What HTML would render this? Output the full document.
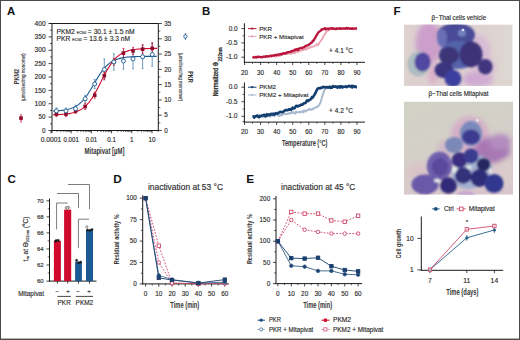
<!DOCTYPE html>
<html><head><meta charset="utf-8"><style>
html,body{margin:0;padding:0;background:#fff;}
svg{display:block;font-family:"Liberation Sans", sans-serif;}
text{stroke:currentColor;stroke-width:0.14px;paint-order:stroke;}
text[font-weight="bold"]{stroke-width:0px;}
</style></head><body>
<svg width="520" height="340" viewBox="0 0 520 340">
<rect width="520" height="340" fill="#fff"/>
<text x="7.1" y="14.8" font-size="11.3" text-anchor="start" font-weight="bold" fill="#111" color="#111" >A</text>
<line x1="49" y1="23.5" x2="158.3" y2="23.5" stroke="#1a1a1a" stroke-width="1" />
<line x1="52" y1="23.5" x2="52" y2="133" stroke="#1a1a1a" stroke-width="1" />
<line x1="51.5" y1="130.5" x2="158.8" y2="130.5" stroke="#1a1a1a" stroke-width="1" />
<line x1="158.3" y1="23.5" x2="158.3" y2="130.5" stroke="#1a1a1a" stroke-width="1" />
<line x1="48.5" y1="130.5" x2="52" y2="130.5" stroke="#1a1a1a" stroke-width="0.8" />
<text x="45.6" y="132.7" font-size="6.3" text-anchor="end" font-weight="normal" fill="#2a2a2a" color="#2a2a2a" >0</text>
<line x1="48.5" y1="117.12" x2="52" y2="117.12" stroke="#1a1a1a" stroke-width="0.8" />
<text x="45.6" y="119.33" font-size="6.3" text-anchor="end" font-weight="normal" fill="#2a2a2a" color="#2a2a2a" >50</text>
<line x1="48.5" y1="103.75" x2="52" y2="103.75" stroke="#1a1a1a" stroke-width="0.8" />
<text x="45.6" y="105.95" font-size="6.3" text-anchor="end" font-weight="normal" fill="#2a2a2a" color="#2a2a2a" textLength="11.1" lengthAdjust="spacingAndGlyphs" >100</text>
<line x1="48.5" y1="90.38" x2="52" y2="90.38" stroke="#1a1a1a" stroke-width="0.8" />
<text x="45.6" y="92.58" font-size="6.3" text-anchor="end" font-weight="normal" fill="#2a2a2a" color="#2a2a2a" textLength="11.1" lengthAdjust="spacingAndGlyphs" >150</text>
<line x1="48.5" y1="77" x2="52" y2="77" stroke="#1a1a1a" stroke-width="0.8" />
<text x="45.6" y="79.2" font-size="6.3" text-anchor="end" font-weight="normal" fill="#2a2a2a" color="#2a2a2a" textLength="11.1" lengthAdjust="spacingAndGlyphs" >200</text>
<line x1="48.5" y1="63.62" x2="52" y2="63.62" stroke="#1a1a1a" stroke-width="0.8" />
<text x="45.6" y="65.83" font-size="6.3" text-anchor="end" font-weight="normal" fill="#2a2a2a" color="#2a2a2a" textLength="11.1" lengthAdjust="spacingAndGlyphs" >250</text>
<line x1="48.5" y1="50.25" x2="52" y2="50.25" stroke="#1a1a1a" stroke-width="0.8" />
<text x="45.6" y="52.45" font-size="6.3" text-anchor="end" font-weight="normal" fill="#2a2a2a" color="#2a2a2a" textLength="11.1" lengthAdjust="spacingAndGlyphs" >300</text>
<line x1="48.5" y1="36.88" x2="52" y2="36.88" stroke="#1a1a1a" stroke-width="0.8" />
<text x="45.6" y="39.08" font-size="6.3" text-anchor="end" font-weight="normal" fill="#2a2a2a" color="#2a2a2a" textLength="11.1" lengthAdjust="spacingAndGlyphs" >350</text>
<line x1="48.5" y1="23.5" x2="52" y2="23.5" stroke="#1a1a1a" stroke-width="0.8" />
<text x="45.6" y="25.7" font-size="6.3" text-anchor="end" font-weight="normal" fill="#2a2a2a" color="#2a2a2a" textLength="11.1" lengthAdjust="spacingAndGlyphs" >400</text>
<line x1="50" y1="123.81" x2="52" y2="123.81" stroke="#1a1a1a" stroke-width="0.7" />
<line x1="50" y1="110.44" x2="52" y2="110.44" stroke="#1a1a1a" stroke-width="0.7" />
<line x1="50" y1="97.06" x2="52" y2="97.06" stroke="#1a1a1a" stroke-width="0.7" />
<line x1="50" y1="83.69" x2="52" y2="83.69" stroke="#1a1a1a" stroke-width="0.7" />
<line x1="50" y1="70.31" x2="52" y2="70.31" stroke="#1a1a1a" stroke-width="0.7" />
<line x1="50" y1="56.94" x2="52" y2="56.94" stroke="#1a1a1a" stroke-width="0.7" />
<line x1="50" y1="43.56" x2="52" y2="43.56" stroke="#1a1a1a" stroke-width="0.7" />
<line x1="50" y1="30.19" x2="52" y2="30.19" stroke="#1a1a1a" stroke-width="0.7" />
<line x1="158.3" y1="130.5" x2="161.8" y2="130.5" stroke="#1a1a1a" stroke-width="0.8" />
<text x="164.2" y="132.7" font-size="6.3" text-anchor="start" font-weight="normal" fill="#2a2a2a" color="#2a2a2a" >0</text>
<line x1="158.3" y1="115.21" x2="161.8" y2="115.21" stroke="#1a1a1a" stroke-width="0.8" />
<text x="164.2" y="117.41" font-size="6.3" text-anchor="start" font-weight="normal" fill="#2a2a2a" color="#2a2a2a" >5</text>
<line x1="158.3" y1="99.93" x2="161.8" y2="99.93" stroke="#1a1a1a" stroke-width="0.8" />
<text x="164.2" y="102.13" font-size="6.3" text-anchor="start" font-weight="normal" fill="#2a2a2a" color="#2a2a2a" >10</text>
<line x1="158.3" y1="84.64" x2="161.8" y2="84.64" stroke="#1a1a1a" stroke-width="0.8" />
<text x="164.2" y="86.84" font-size="6.3" text-anchor="start" font-weight="normal" fill="#2a2a2a" color="#2a2a2a" >15</text>
<line x1="158.3" y1="69.36" x2="161.8" y2="69.36" stroke="#1a1a1a" stroke-width="0.8" />
<text x="164.2" y="71.56" font-size="6.3" text-anchor="start" font-weight="normal" fill="#2a2a2a" color="#2a2a2a" >20</text>
<line x1="158.3" y1="54.07" x2="161.8" y2="54.07" stroke="#1a1a1a" stroke-width="0.8" />
<text x="164.2" y="56.27" font-size="6.3" text-anchor="start" font-weight="normal" fill="#2a2a2a" color="#2a2a2a" >25</text>
<line x1="158.3" y1="38.79" x2="161.8" y2="38.79" stroke="#1a1a1a" stroke-width="0.8" />
<text x="164.2" y="40.99" font-size="6.3" text-anchor="start" font-weight="normal" fill="#2a2a2a" color="#2a2a2a" >30</text>
<line x1="158.3" y1="23.5" x2="161.8" y2="23.5" stroke="#1a1a1a" stroke-width="0.8" />
<text x="164.2" y="25.7" font-size="6.3" text-anchor="start" font-weight="normal" fill="#2a2a2a" color="#2a2a2a" >35</text>
<line x1="158.3" y1="122.86" x2="160.3" y2="122.86" stroke="#1a1a1a" stroke-width="0.7" />
<line x1="158.3" y1="107.57" x2="160.3" y2="107.57" stroke="#1a1a1a" stroke-width="0.7" />
<line x1="158.3" y1="92.29" x2="160.3" y2="92.29" stroke="#1a1a1a" stroke-width="0.7" />
<line x1="158.3" y1="77" x2="160.3" y2="77" stroke="#1a1a1a" stroke-width="0.7" />
<line x1="158.3" y1="61.71" x2="160.3" y2="61.71" stroke="#1a1a1a" stroke-width="0.7" />
<line x1="158.3" y1="46.43" x2="160.3" y2="46.43" stroke="#1a1a1a" stroke-width="0.7" />
<line x1="158.3" y1="31.14" x2="160.3" y2="31.14" stroke="#1a1a1a" stroke-width="0.7" />
<line x1="51" y1="130.5" x2="51" y2="133.3" stroke="#1a1a1a" stroke-width="0.8" />
<line x1="57.08" y1="130.5" x2="57.08" y2="132.1" stroke="#1a1a1a" stroke-width="0.6" />
<line x1="60.64" y1="130.5" x2="60.64" y2="132.1" stroke="#1a1a1a" stroke-width="0.6" />
<line x1="63.16" y1="130.5" x2="63.16" y2="132.1" stroke="#1a1a1a" stroke-width="0.6" />
<line x1="65.12" y1="130.5" x2="65.12" y2="132.1" stroke="#1a1a1a" stroke-width="0.6" />
<line x1="66.72" y1="130.5" x2="66.72" y2="132.1" stroke="#1a1a1a" stroke-width="0.6" />
<line x1="68.07" y1="130.5" x2="68.07" y2="132.1" stroke="#1a1a1a" stroke-width="0.6" />
<line x1="69.24" y1="130.5" x2="69.24" y2="132.1" stroke="#1a1a1a" stroke-width="0.6" />
<line x1="70.28" y1="130.5" x2="70.28" y2="132.1" stroke="#1a1a1a" stroke-width="0.6" />
<line x1="71.2" y1="130.5" x2="71.2" y2="133.3" stroke="#1a1a1a" stroke-width="0.8" />
<line x1="77.28" y1="130.5" x2="77.28" y2="132.1" stroke="#1a1a1a" stroke-width="0.6" />
<line x1="80.84" y1="130.5" x2="80.84" y2="132.1" stroke="#1a1a1a" stroke-width="0.6" />
<line x1="83.36" y1="130.5" x2="83.36" y2="132.1" stroke="#1a1a1a" stroke-width="0.6" />
<line x1="85.32" y1="130.5" x2="85.32" y2="132.1" stroke="#1a1a1a" stroke-width="0.6" />
<line x1="86.92" y1="130.5" x2="86.92" y2="132.1" stroke="#1a1a1a" stroke-width="0.6" />
<line x1="88.27" y1="130.5" x2="88.27" y2="132.1" stroke="#1a1a1a" stroke-width="0.6" />
<line x1="89.44" y1="130.5" x2="89.44" y2="132.1" stroke="#1a1a1a" stroke-width="0.6" />
<line x1="90.48" y1="130.5" x2="90.48" y2="132.1" stroke="#1a1a1a" stroke-width="0.6" />
<line x1="91.4" y1="130.5" x2="91.4" y2="133.3" stroke="#1a1a1a" stroke-width="0.8" />
<line x1="97.48" y1="130.5" x2="97.48" y2="132.1" stroke="#1a1a1a" stroke-width="0.6" />
<line x1="101.04" y1="130.5" x2="101.04" y2="132.1" stroke="#1a1a1a" stroke-width="0.6" />
<line x1="103.56" y1="130.5" x2="103.56" y2="132.1" stroke="#1a1a1a" stroke-width="0.6" />
<line x1="105.52" y1="130.5" x2="105.52" y2="132.1" stroke="#1a1a1a" stroke-width="0.6" />
<line x1="107.12" y1="130.5" x2="107.12" y2="132.1" stroke="#1a1a1a" stroke-width="0.6" />
<line x1="108.47" y1="130.5" x2="108.47" y2="132.1" stroke="#1a1a1a" stroke-width="0.6" />
<line x1="109.64" y1="130.5" x2="109.64" y2="132.1" stroke="#1a1a1a" stroke-width="0.6" />
<line x1="110.68" y1="130.5" x2="110.68" y2="132.1" stroke="#1a1a1a" stroke-width="0.6" />
<line x1="111.6" y1="130.5" x2="111.6" y2="133.3" stroke="#1a1a1a" stroke-width="0.8" />
<line x1="117.68" y1="130.5" x2="117.68" y2="132.1" stroke="#1a1a1a" stroke-width="0.6" />
<line x1="121.24" y1="130.5" x2="121.24" y2="132.1" stroke="#1a1a1a" stroke-width="0.6" />
<line x1="123.76" y1="130.5" x2="123.76" y2="132.1" stroke="#1a1a1a" stroke-width="0.6" />
<line x1="125.72" y1="130.5" x2="125.72" y2="132.1" stroke="#1a1a1a" stroke-width="0.6" />
<line x1="127.32" y1="130.5" x2="127.32" y2="132.1" stroke="#1a1a1a" stroke-width="0.6" />
<line x1="128.67" y1="130.5" x2="128.67" y2="132.1" stroke="#1a1a1a" stroke-width="0.6" />
<line x1="129.84" y1="130.5" x2="129.84" y2="132.1" stroke="#1a1a1a" stroke-width="0.6" />
<line x1="130.88" y1="130.5" x2="130.88" y2="132.1" stroke="#1a1a1a" stroke-width="0.6" />
<line x1="131.8" y1="130.5" x2="131.8" y2="133.3" stroke="#1a1a1a" stroke-width="0.8" />
<line x1="137.88" y1="130.5" x2="137.88" y2="132.1" stroke="#1a1a1a" stroke-width="0.6" />
<line x1="141.44" y1="130.5" x2="141.44" y2="132.1" stroke="#1a1a1a" stroke-width="0.6" />
<line x1="143.96" y1="130.5" x2="143.96" y2="132.1" stroke="#1a1a1a" stroke-width="0.6" />
<line x1="145.92" y1="130.5" x2="145.92" y2="132.1" stroke="#1a1a1a" stroke-width="0.6" />
<line x1="147.52" y1="130.5" x2="147.52" y2="132.1" stroke="#1a1a1a" stroke-width="0.6" />
<line x1="148.87" y1="130.5" x2="148.87" y2="132.1" stroke="#1a1a1a" stroke-width="0.6" />
<line x1="150.04" y1="130.5" x2="150.04" y2="132.1" stroke="#1a1a1a" stroke-width="0.6" />
<line x1="151.08" y1="130.5" x2="151.08" y2="132.1" stroke="#1a1a1a" stroke-width="0.6" />
<line x1="152" y1="130.5" x2="152" y2="133.3" stroke="#1a1a1a" stroke-width="0.8" />
<line x1="158.08" y1="130.5" x2="158.08" y2="132.1" stroke="#1a1a1a" stroke-width="0.6" />
<text x="51" y="142.2" font-size="6.3" text-anchor="middle" font-weight="normal" fill="#2a2a2a" color="#2a2a2a" textLength="20.5" lengthAdjust="spacingAndGlyphs" >0.0001</text>
<text x="71.2" y="142.2" font-size="6.3" text-anchor="middle" font-weight="normal" fill="#2a2a2a" color="#2a2a2a" textLength="15.5" lengthAdjust="spacingAndGlyphs" >0.001</text>
<text x="91.4" y="142.2" font-size="6.3" text-anchor="middle" font-weight="normal" fill="#2a2a2a" color="#2a2a2a" textLength="11.5" lengthAdjust="spacingAndGlyphs" >0.01</text>
<text x="111.6" y="142.2" font-size="6.3" text-anchor="middle" font-weight="normal" fill="#2a2a2a" color="#2a2a2a" >0.1</text>
<text x="131.8" y="142.2" font-size="6.3" text-anchor="middle" font-weight="normal" fill="#2a2a2a" color="#2a2a2a" >1</text>
<text x="152" y="142.2" font-size="6.3" text-anchor="middle" font-weight="normal" fill="#2a2a2a" color="#2a2a2a" >10</text>
<text x="104.5" y="154.3" font-size="8.3" text-anchor="middle" font-weight="bold" fill="#333" color="#333" textLength="40" lengthAdjust="spacingAndGlyphs" >Mitapivat [µM]</text>
<text x="19.1" y="76.5" font-size="6.3" text-anchor="middle" font-weight="bold" fill="#3a3a3a" color="#3a3a3a" textLength="15.4" lengthAdjust="spacingAndGlyphs" transform="rotate(-90 19.1 76.5)" >PKM2</text>
<text x="25.1" y="77.2" font-size="4.8" text-anchor="middle" font-weight="normal" fill="#333" color="#333" textLength="48" lengthAdjust="spacingAndGlyphs" transform="rotate(-90 25.1 77.2)" >(µmol/sec/mg monomer)</text>
<text x="188.2" y="76.9" font-size="6.3" text-anchor="middle" font-weight="bold" fill="#333" color="#333" textLength="11.5" lengthAdjust="spacingAndGlyphs" transform="rotate(90 188.2 76.9)" >PKR</text>
<text x="179.4" y="77.1" font-size="4.8" text-anchor="middle" font-weight="normal" fill="#333" color="#333" textLength="48.5" lengthAdjust="spacingAndGlyphs" transform="rotate(90 179.4 77.1)" >(µmol/sec/mg monomer)</text>
<line x1="21" y1="114" x2="21" y2="122.8" stroke="#cf0a2c" stroke-width="0.9" />
<rect x="19.2" y="116.3" width="3.6" height="3.6" fill="#8c0c2c"/>
<line x1="185.4" y1="33" x2="185.4" y2="40" stroke="#1b5a92" stroke-width="0.8" />
<circle cx="185.4" cy="36.4" r="1.7" fill="#fff" stroke="#1b5a92" stroke-width="0.9"/>
<text x="56.6" y="33.6" font-size="6.5" fill="#2a2a2a" color="#2a2a2a" textLength="78" lengthAdjust="spacingAndGlyphs">PKM2 <tspan font-size="3.6">EC50</tspan> = 30.1 ± 1.5 nM</text>
<text x="56.6" y="40.6" font-size="6.5" fill="#2a2a2a" color="#2a2a2a" textLength="73.6" lengthAdjust="spacingAndGlyphs">PKR <tspan font-size="3.6">EC50</tspan> = 13.6 ± 3.3 nM</text>
<line x1="56.4" y1="107.9" x2="56.4" y2="113.9" stroke="#4d7fae" stroke-width="0.8" />
<line x1="55.4" y1="107.9" x2="57.4" y2="107.9" stroke="#4d7fae" stroke-width="0.7" />
<line x1="55.4" y1="113.9" x2="57.4" y2="113.9" stroke="#4d7fae" stroke-width="0.7" />
<line x1="65.98" y1="107.9" x2="65.98" y2="113.9" stroke="#4d7fae" stroke-width="0.8" />
<line x1="64.98" y1="107.9" x2="66.98" y2="107.9" stroke="#4d7fae" stroke-width="0.7" />
<line x1="64.98" y1="113.9" x2="66.98" y2="113.9" stroke="#4d7fae" stroke-width="0.7" />
<line x1="75.56" y1="105.2" x2="75.56" y2="112.2" stroke="#4d7fae" stroke-width="0.8" />
<line x1="74.56" y1="105.2" x2="76.56" y2="105.2" stroke="#4d7fae" stroke-width="0.7" />
<line x1="74.56" y1="112.2" x2="76.56" y2="112.2" stroke="#4d7fae" stroke-width="0.7" />
<line x1="85.14" y1="95.3" x2="85.14" y2="102.3" stroke="#4d7fae" stroke-width="0.8" />
<line x1="84.14" y1="95.3" x2="86.14" y2="95.3" stroke="#4d7fae" stroke-width="0.7" />
<line x1="84.14" y1="102.3" x2="86.14" y2="102.3" stroke="#4d7fae" stroke-width="0.7" />
<line x1="94.72" y1="79.4" x2="94.72" y2="88.4" stroke="#4d7fae" stroke-width="0.8" />
<line x1="93.72" y1="79.4" x2="95.72" y2="79.4" stroke="#4d7fae" stroke-width="0.7" />
<line x1="93.72" y1="88.4" x2="95.72" y2="88.4" stroke="#4d7fae" stroke-width="0.7" />
<line x1="104.3" y1="59" x2="104.3" y2="80" stroke="#4d7fae" stroke-width="0.8" />
<line x1="103.3" y1="59" x2="105.3" y2="59" stroke="#4d7fae" stroke-width="0.7" />
<line x1="103.3" y1="80" x2="105.3" y2="80" stroke="#4d7fae" stroke-width="0.7" />
<line x1="113.88" y1="53.7" x2="113.88" y2="70.1" stroke="#4d7fae" stroke-width="0.8" />
<line x1="112.88" y1="53.7" x2="114.88" y2="53.7" stroke="#4d7fae" stroke-width="0.7" />
<line x1="112.88" y1="70.1" x2="114.88" y2="70.1" stroke="#4d7fae" stroke-width="0.7" />
<line x1="123.46" y1="52.8" x2="123.46" y2="69.2" stroke="#4d7fae" stroke-width="0.8" />
<line x1="122.46" y1="52.8" x2="124.46" y2="52.8" stroke="#4d7fae" stroke-width="0.7" />
<line x1="122.46" y1="69.2" x2="124.46" y2="69.2" stroke="#4d7fae" stroke-width="0.7" />
<line x1="133.04" y1="49" x2="133.04" y2="68.8" stroke="#4d7fae" stroke-width="0.8" />
<line x1="132.04" y1="49" x2="134.04" y2="49" stroke="#4d7fae" stroke-width="0.7" />
<line x1="132.04" y1="68.8" x2="134.04" y2="68.8" stroke="#4d7fae" stroke-width="0.7" />
<line x1="142.62" y1="45" x2="142.62" y2="68.6" stroke="#4d7fae" stroke-width="0.8" />
<line x1="141.62" y1="45" x2="143.62" y2="45" stroke="#4d7fae" stroke-width="0.7" />
<line x1="141.62" y1="68.6" x2="143.62" y2="68.6" stroke="#4d7fae" stroke-width="0.7" />
<line x1="152.2" y1="42.8" x2="152.2" y2="66.2" stroke="#4d7fae" stroke-width="0.8" />
<line x1="151.2" y1="42.8" x2="153.2" y2="42.8" stroke="#4d7fae" stroke-width="0.7" />
<line x1="151.2" y1="66.2" x2="153.2" y2="66.2" stroke="#4d7fae" stroke-width="0.7" />
<line x1="56.4" y1="111.6" x2="56.4" y2="116.6" stroke="#cf0a2c" stroke-width="0.8" />
<line x1="55.4" y1="111.6" x2="57.4" y2="111.6" stroke="#cf0a2c" stroke-width="0.7" />
<line x1="55.4" y1="116.6" x2="57.4" y2="116.6" stroke="#cf0a2c" stroke-width="0.7" />
<line x1="65.98" y1="111.6" x2="65.98" y2="116.6" stroke="#cf0a2c" stroke-width="0.8" />
<line x1="64.98" y1="111.6" x2="66.98" y2="111.6" stroke="#cf0a2c" stroke-width="0.7" />
<line x1="64.98" y1="116.6" x2="66.98" y2="116.6" stroke="#cf0a2c" stroke-width="0.7" />
<line x1="75.56" y1="108.4" x2="75.56" y2="113.4" stroke="#cf0a2c" stroke-width="0.8" />
<line x1="74.56" y1="108.4" x2="76.56" y2="108.4" stroke="#cf0a2c" stroke-width="0.7" />
<line x1="74.56" y1="113.4" x2="76.56" y2="113.4" stroke="#cf0a2c" stroke-width="0.7" />
<line x1="85.14" y1="103.5" x2="85.14" y2="109.5" stroke="#cf0a2c" stroke-width="0.8" />
<line x1="84.14" y1="103.5" x2="86.14" y2="103.5" stroke="#cf0a2c" stroke-width="0.7" />
<line x1="84.14" y1="109.5" x2="86.14" y2="109.5" stroke="#cf0a2c" stroke-width="0.7" />
<line x1="94.72" y1="92.2" x2="94.72" y2="98.2" stroke="#cf0a2c" stroke-width="0.8" />
<line x1="93.72" y1="92.2" x2="95.72" y2="92.2" stroke="#cf0a2c" stroke-width="0.7" />
<line x1="93.72" y1="98.2" x2="95.72" y2="98.2" stroke="#cf0a2c" stroke-width="0.7" />
<line x1="104.3" y1="72.2" x2="104.3" y2="79.2" stroke="#cf0a2c" stroke-width="0.8" />
<line x1="103.3" y1="72.2" x2="105.3" y2="72.2" stroke="#cf0a2c" stroke-width="0.7" />
<line x1="103.3" y1="79.2" x2="105.3" y2="79.2" stroke="#cf0a2c" stroke-width="0.7" />
<line x1="113.88" y1="58.4" x2="113.88" y2="65.4" stroke="#cf0a2c" stroke-width="0.8" />
<line x1="112.88" y1="58.4" x2="114.88" y2="58.4" stroke="#cf0a2c" stroke-width="0.7" />
<line x1="112.88" y1="65.4" x2="114.88" y2="65.4" stroke="#cf0a2c" stroke-width="0.7" />
<line x1="123.46" y1="48.4" x2="123.46" y2="57.8" stroke="#cf0a2c" stroke-width="0.8" />
<line x1="122.46" y1="48.4" x2="124.46" y2="48.4" stroke="#cf0a2c" stroke-width="0.7" />
<line x1="122.46" y1="57.8" x2="124.46" y2="57.8" stroke="#cf0a2c" stroke-width="0.7" />
<line x1="133.04" y1="47.2" x2="133.04" y2="54.6" stroke="#cf0a2c" stroke-width="0.8" />
<line x1="132.04" y1="47.2" x2="134.04" y2="47.2" stroke="#cf0a2c" stroke-width="0.7" />
<line x1="132.04" y1="54.6" x2="134.04" y2="54.6" stroke="#cf0a2c" stroke-width="0.7" />
<line x1="142.62" y1="44.8" x2="142.62" y2="53.6" stroke="#cf0a2c" stroke-width="0.8" />
<line x1="141.62" y1="44.8" x2="143.62" y2="44.8" stroke="#cf0a2c" stroke-width="0.7" />
<line x1="141.62" y1="53.6" x2="143.62" y2="53.6" stroke="#cf0a2c" stroke-width="0.7" />
<line x1="152.2" y1="42.9" x2="152.2" y2="53.9" stroke="#cf0a2c" stroke-width="0.8" />
<line x1="151.2" y1="42.9" x2="153.2" y2="42.9" stroke="#cf0a2c" stroke-width="0.7" />
<line x1="151.2" y1="53.9" x2="153.2" y2="53.9" stroke="#cf0a2c" stroke-width="0.7" />
<polyline points="53,110.98 54,110.94 55,110.89 56,110.84 57,110.78 58,110.71 59,110.63 60,110.55 61,110.45 62,110.33 63,110.21 64,110.07 65,109.91 66,109.72 67,109.52 68,109.29 69,109.03 70,108.75 71,108.42 72,108.06 73,107.66 74,107.21 75,106.7 76,106.15 77,105.53 78,104.85 79,104.1 80,103.28 81,102.38 82,101.41 83,100.35 84,99.21 85,97.98 86,96.68 87,95.29 88,93.83 89,92.3 90,90.72 91,89.08 92,87.4 93,85.69 94,83.97 95,82.25 96,80.54 97,78.85 98,77.21 99,75.61 100,74.07 101,72.59 102,71.19 103,69.87 104,68.63 105,67.47 106,66.4 107,65.41 108,64.49 109,63.66 110,62.89 111,62.2 112,61.57 113,61 114,60.49 115,60.03 116,59.62 117,59.25 118,58.92 119,58.62 120,58.36 121,58.12 122,57.91 123,57.73 124,57.56 125,57.42 126,57.29 127,57.17 128,57.07 129,56.98 130,56.9 131,56.83 132,56.77 133,56.72 134,56.67 135,56.62 136,56.59 137,56.55 138,56.52 139,56.5 140,56.47 141,56.45 142,56.44 143,56.42 144,56.41 145,56.39 146,56.38 147,56.37 148,56.36 149,56.36 150,56.35 151,56.34 152,56.34 153,56.33 154,56.33 155,56.33 156,56.32 157,56.32" fill="none" stroke="#1b5a92" stroke-width="1.1" stroke-linejoin="round" />
<polyline points="53,114.79 54,114.76 55,114.73 56,114.7 57,114.66 58,114.62 59,114.57 60,114.52 61,114.46 62,114.39 63,114.31 64,114.22 65,114.13 66,114.02 67,113.89 68,113.75 69,113.6 70,113.43 71,113.23 72,113.01 73,112.77 74,112.49 75,112.19 76,111.85 77,111.47 78,111.05 79,110.58 80,110.06 81,109.48 82,108.84 83,108.14 84,107.37 85,106.52 86,105.6 87,104.59 88,103.49 89,102.31 90,101.03 91,99.67 92,98.21 93,96.66 94,95.02 95,93.31 96,91.52 97,89.67 98,87.77 99,85.82 100,83.84 101,81.85 102,79.86 103,77.87 104,75.92 105,74 106,72.14 107,70.34 108,68.61 109,66.96 110,65.4 111,63.92 112,62.53 113,61.24 114,60.04 115,58.92 116,57.9 117,56.96 118,56.09 119,55.31 120,54.59 121,53.94 122,53.35 123,52.82 124,52.34 125,51.91 126,51.52 127,51.18 128,50.86 129,50.58 130,50.33 131,50.11 132,49.91 133,49.73 134,49.58 135,49.43 136,49.31 137,49.2 138,49.1 139,49.01 140,48.93 141,48.86 142,48.8 143,48.74 144,48.69 145,48.65 146,48.61 147,48.57 148,48.54 149,48.52 150,48.49 151,48.47 152,48.45 153,48.43 154,48.42 155,48.41 156,48.39 157,48.38" fill="none" stroke="#cf0a2c" stroke-width="1.1" stroke-linejoin="round" />
<rect x="54.6" y="112.3" width="3.6" height="3.6" fill="#8c0c2c"/>
<rect x="64.18" y="112.3" width="3.6" height="3.6" fill="#8c0c2c"/>
<rect x="73.76" y="109.1" width="3.6" height="3.6" fill="#8c0c2c"/>
<rect x="83.34" y="104.7" width="3.6" height="3.6" fill="#8c0c2c"/>
<rect x="92.92" y="93.4" width="3.6" height="3.6" fill="#8c0c2c"/>
<rect x="102.5" y="73.9" width="3.6" height="3.6" fill="#8c0c2c"/>
<rect x="112.08" y="60.1" width="3.6" height="3.6" fill="#8c0c2c"/>
<rect x="121.66" y="51.3" width="3.6" height="3.6" fill="#8c0c2c"/>
<rect x="131.24" y="49.1" width="3.6" height="3.6" fill="#8c0c2c"/>
<rect x="140.82" y="47.4" width="3.6" height="3.6" fill="#8c0c2c"/>
<rect x="150.4" y="46.6" width="3.6" height="3.6" fill="#8c0c2c"/>
<circle cx="56.4" cy="110.9" r="2" fill="#fff" stroke="#1b5a92" stroke-width="0.9"/>
<circle cx="65.98" cy="110.9" r="2" fill="#fff" stroke="#1b5a92" stroke-width="0.9"/>
<circle cx="75.56" cy="108.7" r="2" fill="#fff" stroke="#1b5a92" stroke-width="0.9"/>
<circle cx="85.14" cy="98.8" r="2" fill="#fff" stroke="#1b5a92" stroke-width="0.9"/>
<circle cx="94.72" cy="83.9" r="2" fill="#fff" stroke="#1b5a92" stroke-width="0.9"/>
<circle cx="104.3" cy="69.5" r="2" fill="#fff" stroke="#1b5a92" stroke-width="0.9"/>
<circle cx="113.88" cy="61.9" r="2" fill="#fff" stroke="#1b5a92" stroke-width="0.9"/>
<circle cx="123.46" cy="61" r="2" fill="#fff" stroke="#1b5a92" stroke-width="0.9"/>
<circle cx="133.04" cy="58.9" r="2" fill="#fff" stroke="#1b5a92" stroke-width="0.9"/>
<circle cx="142.62" cy="56.8" r="2" fill="#fff" stroke="#1b5a92" stroke-width="0.9"/>
<circle cx="152.2" cy="54.5" r="2" fill="#fff" stroke="#1b5a92" stroke-width="0.9"/>
<text x="201.9" y="14.8" font-size="11.4" text-anchor="start" font-weight="bold" fill="#111" color="#111" >B</text>
<line x1="244.4" y1="23.3" x2="244.4" y2="62.8" stroke="#1a1a1a" stroke-width="1" />
<line x1="243.9" y1="62.3" x2="365" y2="62.3" stroke="#1a1a1a" stroke-width="1" />
<line x1="241.4" y1="28.6" x2="244.4" y2="28.6" stroke="#1a1a1a" stroke-width="0.8" />
<text x="237.6" y="30.7" font-size="6.4" text-anchor="end" font-weight="normal" fill="#2a2a2a" color="#2a2a2a" >0.0</text>
<line x1="241.4" y1="42.9" x2="244.4" y2="42.9" stroke="#1a1a1a" stroke-width="0.8" />
<text x="237.6" y="45" font-size="6.4" text-anchor="end" font-weight="normal" fill="#2a2a2a" color="#2a2a2a" textLength="11.6" lengthAdjust="spacingAndGlyphs" >-0.5</text>
<line x1="241.4" y1="57.2" x2="244.4" y2="57.2" stroke="#1a1a1a" stroke-width="0.8" />
<text x="237.6" y="59.3" font-size="6.4" text-anchor="end" font-weight="normal" fill="#2a2a2a" color="#2a2a2a" textLength="11.6" lengthAdjust="spacingAndGlyphs" >-1.0</text>
<line x1="242.6" y1="35.75" x2="244.4" y2="35.75" stroke="#1a1a1a" stroke-width="0.7" />
<line x1="242.6" y1="50.05" x2="244.4" y2="50.05" stroke="#1a1a1a" stroke-width="0.7" />
<line x1="244.5" y1="62.3" x2="244.5" y2="65.1" stroke="#1a1a1a" stroke-width="0.8" />
<text x="244.5" y="74.6" font-size="6.3" text-anchor="middle" font-weight="normal" fill="#2a2a2a" color="#2a2a2a" >20</text>
<line x1="260.57" y1="62.3" x2="260.57" y2="65.1" stroke="#1a1a1a" stroke-width="0.8" />
<text x="260.57" y="74.6" font-size="6.3" text-anchor="middle" font-weight="normal" fill="#2a2a2a" color="#2a2a2a" >30</text>
<line x1="276.64" y1="62.3" x2="276.64" y2="65.1" stroke="#1a1a1a" stroke-width="0.8" />
<text x="276.64" y="74.6" font-size="6.3" text-anchor="middle" font-weight="normal" fill="#2a2a2a" color="#2a2a2a" >40</text>
<line x1="292.71" y1="62.3" x2="292.71" y2="65.1" stroke="#1a1a1a" stroke-width="0.8" />
<text x="292.71" y="74.6" font-size="6.3" text-anchor="middle" font-weight="normal" fill="#2a2a2a" color="#2a2a2a" >50</text>
<line x1="308.78" y1="62.3" x2="308.78" y2="65.1" stroke="#1a1a1a" stroke-width="0.8" />
<text x="308.78" y="74.6" font-size="6.3" text-anchor="middle" font-weight="normal" fill="#2a2a2a" color="#2a2a2a" >60</text>
<line x1="324.85" y1="62.3" x2="324.85" y2="65.1" stroke="#1a1a1a" stroke-width="0.8" />
<text x="324.85" y="74.6" font-size="6.3" text-anchor="middle" font-weight="normal" fill="#2a2a2a" color="#2a2a2a" >70</text>
<line x1="340.92" y1="62.3" x2="340.92" y2="65.1" stroke="#1a1a1a" stroke-width="0.8" />
<text x="340.92" y="74.6" font-size="6.3" text-anchor="middle" font-weight="normal" fill="#2a2a2a" color="#2a2a2a" >80</text>
<line x1="356.99" y1="62.3" x2="356.99" y2="65.1" stroke="#1a1a1a" stroke-width="0.8" />
<text x="356.99" y="74.6" font-size="6.3" text-anchor="middle" font-weight="normal" fill="#2a2a2a" color="#2a2a2a" >90</text>
<line x1="252.53" y1="62.3" x2="252.53" y2="63.9" stroke="#1a1a1a" stroke-width="0.7" />
<line x1="268.61" y1="62.3" x2="268.61" y2="63.9" stroke="#1a1a1a" stroke-width="0.7" />
<line x1="284.68" y1="62.3" x2="284.68" y2="63.9" stroke="#1a1a1a" stroke-width="0.7" />
<line x1="300.75" y1="62.3" x2="300.75" y2="63.9" stroke="#1a1a1a" stroke-width="0.7" />
<line x1="316.81" y1="62.3" x2="316.81" y2="63.9" stroke="#1a1a1a" stroke-width="0.7" />
<line x1="332.88" y1="62.3" x2="332.88" y2="63.9" stroke="#1a1a1a" stroke-width="0.7" />
<line x1="348.95" y1="62.3" x2="348.95" y2="63.9" stroke="#1a1a1a" stroke-width="0.7" />
<line x1="248" y1="28.6" x2="256.5" y2="28.6" stroke="#b8143c" stroke-width="1" />
<circle cx="252.2" cy="28.6" r="1.1" fill="#b8143c"/>
<line x1="248" y1="36.4" x2="256.5" y2="36.4" stroke="#e9a3b3" stroke-width="1" />
<circle cx="252.2" cy="36.4" r="1.1" fill="#e9a3b3"/>
<text x="259.2" y="30.7" font-size="6.2" text-anchor="start" font-weight="normal" fill="#2a2a2a" color="#2a2a2a" >PKR</text>
<text x="259.2" y="38.5" font-size="6.2" text-anchor="start" font-weight="normal" fill="#2a2a2a" color="#2a2a2a" textLength="44.6" lengthAdjust="spacingAndGlyphs" >PKR + Mitapivat</text>
<text x="341" y="52.6" font-size="6.4" text-anchor="middle" font-weight="normal" fill="#2a2a2a" color="#2a2a2a" textLength="23.8" lengthAdjust="spacingAndGlyphs" >+ 4.1 °C</text>
<polyline points="252.53,57.16 253.34,56.66 254.14,57.59 254.95,56.76 255.75,57.28 256.55,57.27 257.36,56.32 258.16,57.04 258.96,57.1 259.77,56.74 260.57,56.53 261.37,56.99 262.18,56.68 262.98,57.3 263.78,56.99 264.59,56.97 265.39,57.3 266.19,57.31 267,57.3 267.8,56.63 268.61,56.53 269.41,56.52 270.21,56.27 271.02,56.79 271.82,56.16 272.62,55.94 273.43,55.62 274.23,56.21 275.03,55.91 275.84,56.5 276.64,55.74 277.44,56.36 278.25,55.91 279.05,54.7 279.85,56 280.66,54.58 281.46,54.65 282.26,54.79 283.07,54.32 283.87,54.15 284.68,53.78 285.48,54.17 286.28,54.17 287.09,54.02 287.89,54.02 288.69,53.45 289.5,53.6 290.3,52.64 291.1,53.72 291.91,53.21 292.71,52.96 293.51,53.26 294.32,51.36 295.12,53.01 295.92,51.9 296.73,51.8 297.53,50.66 298.33,52.01 299.14,50.49 299.94,51.04 300.75,50.57 301.55,50.57 302.35,49.78 303.16,50.31 303.96,49.62 304.76,49.19 305.57,48.31 306.37,49.88 307.17,47.94 307.98,47.93 308.78,48.28 309.58,47.67 310.39,47.72 311.19,46.53 311.99,46.84 312.8,46.71 313.6,46.39 314.4,46.03 315.21,45.63 316.01,45.51 316.81,43.77 317.62,44.93 318.42,45.03 319.23,42.79 320.03,41.92 320.83,40.68 321.64,39.75 322.44,38.42 323.24,36.81 324.05,35.12 324.85,34.37 325.65,33.1 326.46,31.05 327.26,30.79 328.06,30.77 328.87,28.84 329.67,29.14 330.47,29.46 331.28,29.52 332.08,28.76 332.88,29.15 333.69,29.18 334.49,29.24 335.3,28.88 336.1,28.16 336.9,28.81 337.71,29.24 338.51,28.32 339.31,28.58 340.12,28.24 340.92,28.09 341.72,28.67 342.53,28.66 343.33,28.62 344.13,29.09 344.94,28.31 345.74,28.01 346.54,28.53 347.35,28.7 348.15,28.71 348.95,28.93 349.76,28.94 350.56,28.77 351.37,28.96 352.17,28.79 352.97,29.28 353.78,28.45 354.58,28.58 355.38,29.09 356.19,29.59 356.99,28.6" fill="none" stroke="#e9a3b3" stroke-width="1.8" stroke-linejoin="round" />
<polyline points="252.53,56.82 253.34,57.45 254.14,57.36 254.95,57.37 255.75,56.94 256.55,57.45 257.36,56.77 258.16,57.18 258.96,56.72 259.77,56.99 260.57,57.03 261.37,57.4 262.18,57.08 262.98,56.87 263.78,56.48 264.59,56.55 265.39,56.8 266.19,56.34 267,56.05 267.8,56.35 268.61,56.35 269.41,56.23 270.21,55.71 271.02,55.69 271.82,56.08 272.62,55.51 273.43,55.67 274.23,55.63 275.03,54.81 275.84,54.81 276.64,55.2 277.44,54.77 278.25,54.47 279.05,54.69 279.85,54.35 280.66,53.91 281.46,54.57 282.26,53.66 283.07,53.33 283.87,53.22 284.68,53.66 285.48,52.88 286.28,53.08 287.09,52.38 287.89,52.15 288.69,52.06 289.5,52.17 290.3,51.87 291.1,51.14 291.91,51.5 292.71,50.77 293.51,50.52 294.32,50.53 295.12,49.35 295.92,49.88 296.73,48.89 297.53,50.04 298.33,49.84 299.14,48.44 299.94,48.26 300.75,48.29 301.55,47.89 302.35,48.22 303.16,47.46 303.96,47.27 304.76,46.65 305.57,45.92 306.37,45.84 307.17,45.35 307.98,45.3 308.78,44.77 309.58,44.1 310.39,43.68 311.19,42.53 311.99,42.54 312.8,40.74 313.6,40.74 314.4,38.89 315.21,38.22 316.01,36 316.81,35.09 317.62,33.62 318.42,32.27 319.23,31.7 320.03,31.02 320.83,30.73 321.64,29.16 322.44,29.5 323.24,29.24 324.05,28.9 324.85,28.11 325.65,29.31 326.46,28.59 327.26,28.79 328.06,28.45 328.87,29.24 329.67,28.75 330.47,28.32 331.28,28.07 332.08,28.05 332.88,28.9 333.69,28.58 334.49,28.64 335.3,29.07 336.1,29.09 336.9,28.34 337.71,28.52 338.51,28.65 339.31,28.18 340.12,28.94 340.92,28.42 341.72,28.6 342.53,28.62 343.33,28.43 344.13,28.54 344.94,28.51 345.74,28.51 346.54,27.93 347.35,28.71 348.15,28.25 348.95,28.39 349.76,28.72 350.56,28.33 351.37,28.89 352.17,28.2 352.97,28.88 353.78,28.77 354.58,28.49 355.38,28.31 356.19,28.29 356.99,28.29" fill="none" stroke="#b8143c" stroke-width="2.3" stroke-linejoin="round" />
<line x1="244.4" y1="82.4" x2="244.4" y2="122.6" stroke="#1a1a1a" stroke-width="1" />
<line x1="243.9" y1="122.1" x2="365" y2="122.1" stroke="#1a1a1a" stroke-width="1" />
<line x1="241.4" y1="87.2" x2="244.4" y2="87.2" stroke="#1a1a1a" stroke-width="0.8" />
<text x="237.6" y="89.3" font-size="6.4" text-anchor="end" font-weight="normal" fill="#2a2a2a" color="#2a2a2a" >0.0</text>
<line x1="241.4" y1="101.75" x2="244.4" y2="101.75" stroke="#1a1a1a" stroke-width="0.8" />
<text x="237.6" y="103.85" font-size="6.4" text-anchor="end" font-weight="normal" fill="#2a2a2a" color="#2a2a2a" textLength="11.6" lengthAdjust="spacingAndGlyphs" >-0.5</text>
<line x1="241.4" y1="116.3" x2="244.4" y2="116.3" stroke="#1a1a1a" stroke-width="0.8" />
<text x="237.6" y="118.4" font-size="6.4" text-anchor="end" font-weight="normal" fill="#2a2a2a" color="#2a2a2a" textLength="11.6" lengthAdjust="spacingAndGlyphs" >-1.0</text>
<line x1="242.6" y1="94.47" x2="244.4" y2="94.47" stroke="#1a1a1a" stroke-width="0.7" />
<line x1="242.6" y1="109.03" x2="244.4" y2="109.03" stroke="#1a1a1a" stroke-width="0.7" />
<line x1="242.6" y1="121.54" x2="244.4" y2="121.54" stroke="#1a1a1a" stroke-width="0.7" />
<line x1="244.5" y1="122.1" x2="244.5" y2="124.9" stroke="#1a1a1a" stroke-width="0.8" />
<text x="244.5" y="134.4" font-size="6.3" text-anchor="middle" font-weight="normal" fill="#2a2a2a" color="#2a2a2a" >20</text>
<line x1="260.57" y1="122.1" x2="260.57" y2="124.9" stroke="#1a1a1a" stroke-width="0.8" />
<text x="260.57" y="134.4" font-size="6.3" text-anchor="middle" font-weight="normal" fill="#2a2a2a" color="#2a2a2a" >30</text>
<line x1="276.64" y1="122.1" x2="276.64" y2="124.9" stroke="#1a1a1a" stroke-width="0.8" />
<text x="276.64" y="134.4" font-size="6.3" text-anchor="middle" font-weight="normal" fill="#2a2a2a" color="#2a2a2a" >40</text>
<line x1="292.71" y1="122.1" x2="292.71" y2="124.9" stroke="#1a1a1a" stroke-width="0.8" />
<text x="292.71" y="134.4" font-size="6.3" text-anchor="middle" font-weight="normal" fill="#2a2a2a" color="#2a2a2a" >50</text>
<line x1="308.78" y1="122.1" x2="308.78" y2="124.9" stroke="#1a1a1a" stroke-width="0.8" />
<text x="308.78" y="134.4" font-size="6.3" text-anchor="middle" font-weight="normal" fill="#2a2a2a" color="#2a2a2a" >60</text>
<line x1="324.85" y1="122.1" x2="324.85" y2="124.9" stroke="#1a1a1a" stroke-width="0.8" />
<text x="324.85" y="134.4" font-size="6.3" text-anchor="middle" font-weight="normal" fill="#2a2a2a" color="#2a2a2a" >70</text>
<line x1="340.92" y1="122.1" x2="340.92" y2="124.9" stroke="#1a1a1a" stroke-width="0.8" />
<text x="340.92" y="134.4" font-size="6.3" text-anchor="middle" font-weight="normal" fill="#2a2a2a" color="#2a2a2a" >80</text>
<line x1="356.99" y1="122.1" x2="356.99" y2="124.9" stroke="#1a1a1a" stroke-width="0.8" />
<text x="356.99" y="134.4" font-size="6.3" text-anchor="middle" font-weight="normal" fill="#2a2a2a" color="#2a2a2a" >90</text>
<line x1="252.53" y1="122.1" x2="252.53" y2="123.7" stroke="#1a1a1a" stroke-width="0.7" />
<line x1="268.61" y1="122.1" x2="268.61" y2="123.7" stroke="#1a1a1a" stroke-width="0.7" />
<line x1="284.68" y1="122.1" x2="284.68" y2="123.7" stroke="#1a1a1a" stroke-width="0.7" />
<line x1="300.75" y1="122.1" x2="300.75" y2="123.7" stroke="#1a1a1a" stroke-width="0.7" />
<line x1="316.81" y1="122.1" x2="316.81" y2="123.7" stroke="#1a1a1a" stroke-width="0.7" />
<line x1="332.88" y1="122.1" x2="332.88" y2="123.7" stroke="#1a1a1a" stroke-width="0.7" />
<line x1="348.95" y1="122.1" x2="348.95" y2="123.7" stroke="#1a1a1a" stroke-width="0.7" />
<line x1="248" y1="87.2" x2="256.5" y2="87.2" stroke="#123f70" stroke-width="1" />
<circle cx="252.2" cy="87.2" r="1.1" fill="#123f70"/>
<line x1="248" y1="95" x2="256.5" y2="95" stroke="#a9b9d0" stroke-width="1" />
<circle cx="252.2" cy="95" r="1.1" fill="#a9b9d0"/>
<text x="259.2" y="89.3" font-size="6.2" text-anchor="start" font-weight="normal" fill="#2a2a2a" color="#2a2a2a" >PKM2</text>
<text x="259.2" y="97.1" font-size="6.2" text-anchor="start" font-weight="normal" fill="#2a2a2a" color="#2a2a2a" textLength="49.3" lengthAdjust="spacingAndGlyphs" >PKM2 + Mitapivat</text>
<text x="341" y="112.7" font-size="6.4" text-anchor="middle" font-weight="normal" fill="#2a2a2a" color="#2a2a2a" textLength="23.8" lengthAdjust="spacingAndGlyphs" >+ 4.2 °C</text>
<polyline points="252.53,116.42 253.34,116.86 254.14,115.97 254.95,116.11 255.75,116.83 256.55,115.7 257.36,116.14 258.16,116.79 258.96,115.96 259.77,116.97 260.57,116.68 261.37,115.91 262.18,117.02 262.98,116.06 263.78,116.83 264.59,115.58 265.39,116.39 266.19,115.82 267,116.75 267.8,116.03 268.61,115.22 269.41,115.46 270.21,116.74 271.02,115.07 271.82,115.03 272.62,115.7 273.43,114.59 274.23,115.96 275.03,115.32 275.84,114.55 276.64,114.36 277.44,114.3 278.25,115.6 279.05,115.91 279.85,114.56 280.66,115.53 281.46,114.68 282.26,115.25 283.07,113.79 283.87,113.84 284.68,113.88 285.48,114.09 286.28,113.96 287.09,114.05 287.89,113.54 288.69,113.5 289.5,113.26 290.3,113.66 291.1,112.18 291.91,112.99 292.71,112.21 293.51,112.12 294.32,113.27 295.12,113.6 295.92,111.75 296.73,112.56 297.53,112.15 298.33,112.2 299.14,111.82 299.94,112.43 300.75,111.65 301.55,111.7 302.35,111.28 303.16,112.46 303.96,110.46 304.76,110.57 305.57,111.6 306.37,110.85 307.17,110.23 307.98,109.7 308.78,109.88 309.58,108.89 310.39,109.49 311.19,109.89 311.99,109.5 312.8,108.46 313.6,109.03 314.4,107.93 315.21,107.55 316.01,107.45 316.81,106.76 317.62,106.85 318.42,105.9 319.23,105.02 320.03,103.32 320.83,101.63 321.64,98.38 322.44,95.92 323.24,93.65 324.05,90.78 324.85,89.22 325.65,88.78 326.46,87.21 327.26,87.12 328.06,86.85 328.87,87.67 329.67,88.11 330.47,86.86 331.28,86.96 332.08,86.68 332.88,86.83 333.69,86.32 334.49,87.2 335.3,86.62 336.1,87.5 336.9,88.3 337.71,87.2 338.51,86.04 339.31,87.87 340.12,86.28 340.92,87.25 341.72,87.06 342.53,86.78 343.33,86.66 344.13,87.33 344.94,86.67 345.74,86.46 346.54,86.21 347.35,87.12 348.15,85.75 348.95,85.52 349.76,85.21 350.56,87.37 351.37,86.47 352.17,87.63 352.97,86.3 353.78,86.18 354.58,87.15 355.38,87.38 356.19,86.33 356.99,86.05" fill="none" stroke="#a9b9d0" stroke-width="2.0" stroke-linejoin="round" />
<polyline points="252.53,116.72 253.34,116.43 254.14,117.61 254.95,116.64 255.75,116.17 256.55,116.14 257.36,115.36 258.16,116.74 258.96,117.27 259.77,115.8 260.57,116.29 261.37,115.76 262.18,115.46 262.98,115.44 263.78,114.92 264.59,114.87 265.39,116.35 266.19,115.41 267,114.21 267.8,115.36 268.61,114.51 269.41,114.92 270.21,114.97 271.02,113.78 271.82,113.91 272.62,114.43 273.43,113.66 274.23,114.65 275.03,114.17 275.84,113.14 276.64,113.4 277.44,113.78 278.25,112.79 279.05,112.64 279.85,111.93 280.66,111.88 281.46,112.3 282.26,112.17 283.07,111.75 283.87,111.55 284.68,110.41 285.48,110.09 286.28,109.94 287.09,110.18 287.89,110.23 288.69,109.34 289.5,109.71 290.3,109.11 291.1,109.8 291.91,108.84 292.71,107.54 293.51,108.51 294.32,108.43 295.12,107.39 295.92,106.09 296.73,105.86 297.53,106.45 298.33,106.15 299.14,105.59 299.94,105.64 300.75,104.76 301.55,104.54 302.35,104.77 303.16,103.89 303.96,103.31 304.76,103.21 305.57,102.92 306.37,101.42 307.17,100.44 307.98,101.11 308.78,100.68 309.58,99.65 310.39,99.44 311.19,99.05 311.99,97.11 312.8,97.45 313.6,96.17 314.4,94.84 315.21,93.55 316.01,91.81 316.81,90.12 317.62,88.64 318.42,88.3 319.23,88.11 320.03,88.45 320.83,87.61 321.64,87.94 322.44,87.41 323.24,86.78 324.05,87.14 324.85,87.32 325.65,87.57 326.46,87.16 327.26,87.06 328.06,87.58 328.87,87.33 329.67,86.58 330.47,87.89 331.28,87.22 332.08,87.58 332.88,86.13 333.69,86.59 334.49,86.62 335.3,86.65 336.1,86.68 336.9,86.65 337.71,87.61 338.51,86.62 339.31,86.42 340.12,87.45 340.92,86.24 341.72,86.3 342.53,87.42 343.33,86.84 344.13,86.73 344.94,86.82 345.74,86.31 346.54,87.16 347.35,86.58 348.15,86.32 348.95,86.03 349.76,86.36 350.56,86.49 351.37,85.97 352.17,87.35 352.97,85.79 353.78,86.42 354.58,86.89 355.38,86.43 356.19,87.14 356.99,87.22" fill="none" stroke="#123f70" stroke-width="2.6" stroke-linejoin="round" />
<text x="218.2" y="96.2" font-size="7.8" text-anchor="start" font-weight="bold" fill="#333" color="#333" textLength="34" lengthAdjust="spacingAndGlyphs" transform="rotate(-90 218.2 96.2)" style="stroke-width:0.3px">Normalized Θ</text>
<text x="222" y="61.4" font-size="4.9" text-anchor="start" font-weight="bold" fill="#333" color="#333" textLength="14" lengthAdjust="spacingAndGlyphs" transform="rotate(-90 222 61.4)" style="stroke-width:0.2px">222nm</text>
<text x="304.7" y="145.8" font-size="8.5" text-anchor="middle" font-weight="bold" fill="#333" color="#333" textLength="45.6" lengthAdjust="spacingAndGlyphs" >Temperature (°C)</text>
<text x="7.6" y="183" font-size="11.6" text-anchor="start" font-weight="bold" fill="#111" color="#111" >C</text>
<line x1="49.5" y1="198.5" x2="49.5" y2="281.6" stroke="#1a1a1a" stroke-width="1" />
<line x1="49" y1="281.1" x2="96.5" y2="281.1" stroke="#1a1a1a" stroke-width="1" />
<line x1="46.5" y1="281.1" x2="49.5" y2="281.1" stroke="#1a1a1a" stroke-width="0.8" />
<text x="43.6" y="283.2" font-size="6" text-anchor="end" font-weight="normal" fill="#2a2a2a" color="#2a2a2a" >60</text>
<line x1="46.5" y1="265.04" x2="49.5" y2="265.04" stroke="#1a1a1a" stroke-width="0.8" />
<text x="43.6" y="267.14" font-size="6" text-anchor="end" font-weight="normal" fill="#2a2a2a" color="#2a2a2a" >62</text>
<line x1="46.5" y1="248.98" x2="49.5" y2="248.98" stroke="#1a1a1a" stroke-width="0.8" />
<text x="43.6" y="251.08" font-size="6" text-anchor="end" font-weight="normal" fill="#2a2a2a" color="#2a2a2a" >64</text>
<line x1="46.5" y1="232.92" x2="49.5" y2="232.92" stroke="#1a1a1a" stroke-width="0.8" />
<text x="43.6" y="235.02" font-size="6" text-anchor="end" font-weight="normal" fill="#2a2a2a" color="#2a2a2a" >66</text>
<line x1="46.5" y1="216.86" x2="49.5" y2="216.86" stroke="#1a1a1a" stroke-width="0.8" />
<text x="43.6" y="218.96" font-size="6" text-anchor="end" font-weight="normal" fill="#2a2a2a" color="#2a2a2a" >68</text>
<line x1="46.5" y1="200.8" x2="49.5" y2="200.8" stroke="#1a1a1a" stroke-width="0.8" />
<text x="43.6" y="202.9" font-size="6" text-anchor="end" font-weight="normal" fill="#2a2a2a" color="#2a2a2a" >70</text>
<line x1="47.7" y1="273.07" x2="49.5" y2="273.07" stroke="#1a1a1a" stroke-width="0.7" />
<line x1="47.7" y1="257.01" x2="49.5" y2="257.01" stroke="#1a1a1a" stroke-width="0.7" />
<line x1="47.7" y1="240.95" x2="49.5" y2="240.95" stroke="#1a1a1a" stroke-width="0.7" />
<line x1="47.7" y1="224.89" x2="49.5" y2="224.89" stroke="#1a1a1a" stroke-width="0.7" />
<line x1="47.7" y1="208.83" x2="49.5" y2="208.83" stroke="#1a1a1a" stroke-width="0.7" />
<rect x="53.9" y="240.95" width="7" height="40.15" fill="#cf0a2c"/>
<line x1="57.4" y1="281.1" x2="57.4" y2="283.6" stroke="#1a1a1a" stroke-width="0.8" />
<rect x="64.1" y="209.63" width="7.1" height="71.47" fill="#cf0a2c"/>
<line x1="67.65" y1="281.1" x2="67.65" y2="283.6" stroke="#1a1a1a" stroke-width="0.8" />
<rect x="75.1" y="261.83" width="6.8" height="19.27" fill="#1b5a92"/>
<line x1="78.5" y1="281.1" x2="78.5" y2="283.6" stroke="#1a1a1a" stroke-width="0.8" />
<rect x="86" y="230.11" width="7" height="50.99" fill="#1b5a92"/>
<line x1="89.5" y1="281.1" x2="89.5" y2="283.6" stroke="#1a1a1a" stroke-width="0.8" />
<circle cx="56.3" cy="240.6" r="1.1" fill="#111" stroke="#222" stroke-width="0.5"/>
<circle cx="58.3" cy="240.4" r="1.1" fill="#111" stroke="#222" stroke-width="0.5"/>
<circle cx="55.6" cy="241.2" r="1.1" fill="#111" stroke="#222" stroke-width="0.5"/>
<circle cx="66.3" cy="207.6" r="1.1" fill="#fff" stroke="#222" stroke-width="0.5"/>
<circle cx="68.6" cy="207.4" r="1.1" fill="#fff" stroke="#222" stroke-width="0.5"/>
<circle cx="67.5" cy="208.2" r="1.1" fill="#fff" stroke="#222" stroke-width="0.5"/>
<circle cx="76.6" cy="260.4" r="1.1" fill="#111" stroke="#222" stroke-width="0.5"/>
<circle cx="80.6" cy="262.2" r="1.1" fill="#111" stroke="#222" stroke-width="0.5"/>
<circle cx="78.5" cy="262.8" r="1.1" fill="#111" stroke="#222" stroke-width="0.5"/>
<circle cx="86.8" cy="226.8" r="1.1" fill="#fff" stroke="#222" stroke-width="0.5"/>
<circle cx="87.5" cy="230" r="1.1" fill="#111" stroke="#222" stroke-width="0.5"/>
<circle cx="92" cy="229.6" r="1.1" fill="#111" stroke="#222" stroke-width="0.5"/>
<circle cx="89.8" cy="230.4" r="1.1" fill="#111" stroke="#222" stroke-width="0.5"/>
<polyline points="56.6,229.4 56.6,203 67.6,203 67.6,203" fill="none" stroke="#5a5a5a" stroke-width="0.8" stroke-linejoin="round" />
<polyline points="57,193.5 57,193.5 78.5,193.5 78.5,208.2" fill="none" stroke="#5a5a5a" stroke-width="0.8" stroke-linejoin="round" />
<polyline points="68,184.5 68,184.5 89.5,184.5 89.5,209" fill="none" stroke="#5a5a5a" stroke-width="0.8" stroke-linejoin="round" />
<polyline points="78.4,248.2 78.4,219.2 89,219.2 89,219.2" fill="none" stroke="#5a5a5a" stroke-width="0.8" stroke-linejoin="round" />
<text x="31.1" y="296.2" font-size="6.6" text-anchor="middle" font-weight="normal" fill="#2a2a2a" color="#2a2a2a" textLength="25.8" lengthAdjust="spacingAndGlyphs" >Mitapivat</text>
<text x="57.3" y="292.8" font-size="6" text-anchor="middle" font-weight="normal" fill="#2a2a2a" color="#2a2a2a" >−</text>
<text x="67.9" y="292.8" font-size="6" text-anchor="middle" font-weight="normal" fill="#2a2a2a" color="#2a2a2a" >+</text>
<text x="78" y="292.8" font-size="6" text-anchor="middle" font-weight="normal" fill="#2a2a2a" color="#2a2a2a" >−</text>
<text x="89" y="292.8" font-size="6" text-anchor="middle" font-weight="normal" fill="#2a2a2a" color="#2a2a2a" >+</text>
<line x1="57.3" y1="296.4" x2="70.9" y2="296.4" stroke="#1a1a1a" stroke-width="0.8" />
<line x1="75.8" y1="296.4" x2="93" y2="296.4" stroke="#1a1a1a" stroke-width="0.8" />
<text x="64.2" y="304.9" font-size="6.8" text-anchor="middle" font-weight="normal" fill="#2a2a2a" color="#2a2a2a" textLength="13.2" lengthAdjust="spacingAndGlyphs" >PKR</text>
<text x="84.4" y="304.9" font-size="6.8" text-anchor="middle" font-weight="normal" fill="#2a2a2a" color="#2a2a2a" textLength="17.6" lengthAdjust="spacingAndGlyphs" >PKM2</text>
<text x="27.9" y="261.4" font-size="6.6" text-anchor="start" font-weight="normal" fill="#2a2a2a" color="#2a2a2a" textLength="44.8" lengthAdjust="spacingAndGlyphs" transform="rotate(-90 27.9 261.4)" >t<tspan font-size="4.2" dy="1.4">m</tspan><tspan dy="-1.4"> at Θ</tspan><tspan font-size="4.2" dy="1.4">222nm</tspan><tspan dy="-1.4"> (°C)</tspan></text>
<text x="113.2" y="182.7" font-size="11.8" text-anchor="start" font-weight="bold" fill="#111" color="#111" >D</text>
<text x="147.9" y="190.1" font-size="8.4" text-anchor="start" font-weight="normal" fill="#2a2a2a" color="#2a2a2a" textLength="75.2" lengthAdjust="spacingAndGlyphs" >inactivation at 53 °C</text>
<line x1="142.7" y1="195.3" x2="142.7" y2="284.4" stroke="#1a1a1a" stroke-width="1" />
<line x1="142.2" y1="283.9" x2="228.8" y2="283.9" stroke="#1a1a1a" stroke-width="1" />
<line x1="139.7" y1="283.9" x2="142.7" y2="283.9" stroke="#1a1a1a" stroke-width="0.8" />
<text x="136.9" y="286.1" font-size="6.4" text-anchor="end" font-weight="normal" fill="#2a2a2a" color="#2a2a2a" >0</text>
<line x1="139.7" y1="262.47" x2="142.7" y2="262.47" stroke="#1a1a1a" stroke-width="0.8" />
<text x="136.9" y="264.67" font-size="6.4" text-anchor="end" font-weight="normal" fill="#2a2a2a" color="#2a2a2a" >25</text>
<line x1="139.7" y1="241.05" x2="142.7" y2="241.05" stroke="#1a1a1a" stroke-width="0.8" />
<text x="136.9" y="243.25" font-size="6.4" text-anchor="end" font-weight="normal" fill="#2a2a2a" color="#2a2a2a" >50</text>
<line x1="139.7" y1="219.62" x2="142.7" y2="219.62" stroke="#1a1a1a" stroke-width="0.8" />
<text x="136.9" y="221.82" font-size="6.4" text-anchor="end" font-weight="normal" fill="#2a2a2a" color="#2a2a2a" >75</text>
<line x1="139.7" y1="198.2" x2="142.7" y2="198.2" stroke="#1a1a1a" stroke-width="0.8" />
<text x="136.9" y="200.4" font-size="6.4" text-anchor="end" font-weight="normal" fill="#2a2a2a" color="#2a2a2a" textLength="10.6" lengthAdjust="spacingAndGlyphs" >100</text>
<line x1="140.9" y1="273.19" x2="142.7" y2="273.19" stroke="#1a1a1a" stroke-width="0.7" />
<line x1="140.9" y1="251.76" x2="142.7" y2="251.76" stroke="#1a1a1a" stroke-width="0.7" />
<line x1="140.9" y1="230.34" x2="142.7" y2="230.34" stroke="#1a1a1a" stroke-width="0.7" />
<line x1="140.9" y1="208.91" x2="142.7" y2="208.91" stroke="#1a1a1a" stroke-width="0.7" />
<line x1="145.6" y1="283.9" x2="145.6" y2="286.7" stroke="#1a1a1a" stroke-width="0.8" />
<text x="145.6" y="295.6" font-size="6.4" text-anchor="middle" font-weight="normal" fill="#2a2a2a" color="#2a2a2a" >0</text>
<line x1="158.8" y1="283.9" x2="158.8" y2="286.7" stroke="#1a1a1a" stroke-width="0.8" />
<text x="158.8" y="295.6" font-size="6.4" text-anchor="middle" font-weight="normal" fill="#2a2a2a" color="#2a2a2a" >10</text>
<line x1="172" y1="283.9" x2="172" y2="286.7" stroke="#1a1a1a" stroke-width="0.8" />
<text x="172" y="295.6" font-size="6.4" text-anchor="middle" font-weight="normal" fill="#2a2a2a" color="#2a2a2a" >20</text>
<line x1="185.2" y1="283.9" x2="185.2" y2="286.7" stroke="#1a1a1a" stroke-width="0.8" />
<text x="185.2" y="295.6" font-size="6.4" text-anchor="middle" font-weight="normal" fill="#2a2a2a" color="#2a2a2a" >30</text>
<line x1="198.4" y1="283.9" x2="198.4" y2="286.7" stroke="#1a1a1a" stroke-width="0.8" />
<text x="198.4" y="295.6" font-size="6.4" text-anchor="middle" font-weight="normal" fill="#2a2a2a" color="#2a2a2a" >40</text>
<line x1="211.6" y1="283.9" x2="211.6" y2="286.7" stroke="#1a1a1a" stroke-width="0.8" />
<text x="211.6" y="295.6" font-size="6.4" text-anchor="middle" font-weight="normal" fill="#2a2a2a" color="#2a2a2a" >50</text>
<line x1="224.8" y1="283.9" x2="224.8" y2="286.7" stroke="#1a1a1a" stroke-width="0.8" />
<text x="224.8" y="295.6" font-size="6.4" text-anchor="middle" font-weight="normal" fill="#2a2a2a" color="#2a2a2a" >60</text>
<line x1="152.2" y1="283.9" x2="152.2" y2="285.5" stroke="#1a1a1a" stroke-width="0.7" />
<line x1="165.4" y1="283.9" x2="165.4" y2="285.5" stroke="#1a1a1a" stroke-width="0.7" />
<line x1="178.6" y1="283.9" x2="178.6" y2="285.5" stroke="#1a1a1a" stroke-width="0.7" />
<line x1="191.8" y1="283.9" x2="191.8" y2="285.5" stroke="#1a1a1a" stroke-width="0.7" />
<line x1="205" y1="283.9" x2="205" y2="285.5" stroke="#1a1a1a" stroke-width="0.7" />
<line x1="218.2" y1="283.9" x2="218.2" y2="285.5" stroke="#1a1a1a" stroke-width="0.7" />
<text x="184.8" y="307.6" font-size="8.6" text-anchor="middle" font-weight="bold" fill="#333" color="#333" textLength="28.9" lengthAdjust="spacingAndGlyphs" >Time (min)</text>
<text x="119.5" y="264.3" font-size="7.2" text-anchor="start" font-weight="bold" fill="#333" color="#333" textLength="49.9" lengthAdjust="spacingAndGlyphs" transform="rotate(-90 119.5 264.3)" >Residual activity %</text>
<polyline points="145.6,198.2 158.8,245.68 172,283.04 198.4,283.9 224.8,283.04" fill="none" stroke="#cc3d62" stroke-width="0.9" stroke-linejoin="round" stroke-dasharray="1.7,1.5"/>
<rect x="143.9" y="196.5" width="3.4" height="3.4" fill="#fff" stroke="#cc3d62" stroke-width="0.85"/>
<rect x="157.1" y="243.98" width="3.4" height="3.4" fill="#fff" stroke="#cc3d62" stroke-width="0.85"/>
<rect x="170.3" y="281.34" width="3.4" height="3.4" fill="#fff" stroke="#cc3d62" stroke-width="0.85"/>
<rect x="196.7" y="282.2" width="3.4" height="3.4" fill="#fff" stroke="#cc3d62" stroke-width="0.85"/>
<rect x="223.1" y="281.34" width="3.4" height="3.4" fill="#fff" stroke="#cc3d62" stroke-width="0.85"/>
<polyline points="145.6,198.2 158.8,262.47 172,283.04 198.4,283.9 224.8,283.04" fill="none" stroke="#cc3d62" stroke-width="0.9" stroke-linejoin="round" stroke-dasharray="1.7,1.5"/>
<circle cx="145.6" cy="198.2" r="1.75" fill="#fff" stroke="#cc3d62" stroke-width="0.85"/>
<circle cx="158.8" cy="262.47" r="1.75" fill="#fff" stroke="#cc3d62" stroke-width="0.85"/>
<circle cx="172" cy="283.04" r="1.75" fill="#fff" stroke="#cc3d62" stroke-width="0.85"/>
<circle cx="198.4" cy="283.9" r="1.75" fill="#fff" stroke="#cc3d62" stroke-width="0.85"/>
<circle cx="224.8" cy="283.04" r="1.75" fill="#fff" stroke="#cc3d62" stroke-width="0.85"/>
<polyline points="145.6,198.2 158.8,275.33 172,279.61 198.4,283.04 224.8,282.19" fill="none" stroke="#3c6e9c" stroke-width="0.9" stroke-linejoin="round" />
<circle cx="145.6" cy="198.2" r="1.75" fill="#1d4d7e" stroke="#3c6e9c" stroke-width="0.85"/>
<circle cx="158.8" cy="275.33" r="1.75" fill="#1d4d7e" stroke="#3c6e9c" stroke-width="0.85"/>
<circle cx="172" cy="279.61" r="1.75" fill="#1d4d7e" stroke="#3c6e9c" stroke-width="0.85"/>
<circle cx="198.4" cy="283.04" r="1.75" fill="#1d4d7e" stroke="#3c6e9c" stroke-width="0.85"/>
<circle cx="224.8" cy="282.19" r="1.75" fill="#1d4d7e" stroke="#3c6e9c" stroke-width="0.85"/>
<polyline points="145.6,198.2 158.8,277.9 172,280.04 198.4,283.04 224.8,279.61" fill="none" stroke="#1d3f6a" stroke-width="0.9" stroke-linejoin="round" />
<rect x="143.9" y="196.5" width="3.4" height="3.4" fill="#1d3f6a" stroke="#1d3f6a" stroke-width="0.85"/>
<rect x="157.1" y="276.2" width="3.4" height="3.4" fill="#1d3f6a" stroke="#1d3f6a" stroke-width="0.85"/>
<rect x="170.3" y="278.34" width="3.4" height="3.4" fill="#1d3f6a" stroke="#1d3f6a" stroke-width="0.85"/>
<rect x="196.7" y="281.34" width="3.4" height="3.4" fill="#1d3f6a" stroke="#1d3f6a" stroke-width="0.85"/>
<rect x="223.1" y="277.91" width="3.4" height="3.4" fill="#1d3f6a" stroke="#1d3f6a" stroke-width="0.85"/>
<text x="246.2" y="182.7" font-size="11.8" text-anchor="start" font-weight="bold" fill="#111" color="#111" >E</text>
<text x="281.1" y="190.1" font-size="8.4" text-anchor="start" font-weight="normal" fill="#2a2a2a" color="#2a2a2a" textLength="74.3" lengthAdjust="spacingAndGlyphs" >inactivation at 45 °C</text>
<line x1="276" y1="196" x2="276" y2="284.1" stroke="#1a1a1a" stroke-width="1" />
<line x1="275.5" y1="283.6" x2="362.12" y2="283.6" stroke="#1a1a1a" stroke-width="1" />
<line x1="273" y1="283.6" x2="276" y2="283.6" stroke="#1a1a1a" stroke-width="0.8" />
<text x="270.2" y="285.8" font-size="6.4" text-anchor="end" font-weight="normal" fill="#2a2a2a" color="#2a2a2a" >0</text>
<line x1="273" y1="262.4" x2="276" y2="262.4" stroke="#1a1a1a" stroke-width="0.8" />
<text x="270.2" y="264.6" font-size="6.4" text-anchor="end" font-weight="normal" fill="#2a2a2a" color="#2a2a2a" >50</text>
<line x1="273" y1="241.2" x2="276" y2="241.2" stroke="#1a1a1a" stroke-width="0.8" />
<text x="270.2" y="243.4" font-size="6.4" text-anchor="end" font-weight="normal" fill="#2a2a2a" color="#2a2a2a" textLength="10.6" lengthAdjust="spacingAndGlyphs" >100</text>
<line x1="273" y1="220" x2="276" y2="220" stroke="#1a1a1a" stroke-width="0.8" />
<text x="270.2" y="222.2" font-size="6.4" text-anchor="end" font-weight="normal" fill="#2a2a2a" color="#2a2a2a" textLength="10.6" lengthAdjust="spacingAndGlyphs" >150</text>
<line x1="273" y1="198.8" x2="276" y2="198.8" stroke="#1a1a1a" stroke-width="0.8" />
<text x="270.2" y="201" font-size="6.4" text-anchor="end" font-weight="normal" fill="#2a2a2a" color="#2a2a2a" textLength="10.6" lengthAdjust="spacingAndGlyphs" >200</text>
<line x1="274.2" y1="273" x2="276" y2="273" stroke="#1a1a1a" stroke-width="0.7" />
<line x1="274.2" y1="251.8" x2="276" y2="251.8" stroke="#1a1a1a" stroke-width="0.7" />
<line x1="274.2" y1="230.6" x2="276" y2="230.6" stroke="#1a1a1a" stroke-width="0.7" />
<line x1="274.2" y1="209.4" x2="276" y2="209.4" stroke="#1a1a1a" stroke-width="0.7" />
<line x1="277.9" y1="283.6" x2="277.9" y2="286.4" stroke="#1a1a1a" stroke-width="0.8" />
<text x="277.9" y="295.6" font-size="6.4" text-anchor="middle" font-weight="normal" fill="#2a2a2a" color="#2a2a2a" >0</text>
<line x1="291.27" y1="283.6" x2="291.27" y2="286.4" stroke="#1a1a1a" stroke-width="0.8" />
<text x="291.27" y="295.6" font-size="6.4" text-anchor="middle" font-weight="normal" fill="#2a2a2a" color="#2a2a2a" >10</text>
<line x1="304.64" y1="283.6" x2="304.64" y2="286.4" stroke="#1a1a1a" stroke-width="0.8" />
<text x="304.64" y="295.6" font-size="6.4" text-anchor="middle" font-weight="normal" fill="#2a2a2a" color="#2a2a2a" >20</text>
<line x1="318.01" y1="283.6" x2="318.01" y2="286.4" stroke="#1a1a1a" stroke-width="0.8" />
<text x="318.01" y="295.6" font-size="6.4" text-anchor="middle" font-weight="normal" fill="#2a2a2a" color="#2a2a2a" >30</text>
<line x1="331.38" y1="283.6" x2="331.38" y2="286.4" stroke="#1a1a1a" stroke-width="0.8" />
<text x="331.38" y="295.6" font-size="6.4" text-anchor="middle" font-weight="normal" fill="#2a2a2a" color="#2a2a2a" >40</text>
<line x1="344.75" y1="283.6" x2="344.75" y2="286.4" stroke="#1a1a1a" stroke-width="0.8" />
<text x="344.75" y="295.6" font-size="6.4" text-anchor="middle" font-weight="normal" fill="#2a2a2a" color="#2a2a2a" >50</text>
<line x1="358.12" y1="283.6" x2="358.12" y2="286.4" stroke="#1a1a1a" stroke-width="0.8" />
<text x="358.12" y="295.6" font-size="6.4" text-anchor="middle" font-weight="normal" fill="#2a2a2a" color="#2a2a2a" >60</text>
<line x1="284.58" y1="283.6" x2="284.58" y2="285.2" stroke="#1a1a1a" stroke-width="0.7" />
<line x1="297.95" y1="283.6" x2="297.95" y2="285.2" stroke="#1a1a1a" stroke-width="0.7" />
<line x1="311.32" y1="283.6" x2="311.32" y2="285.2" stroke="#1a1a1a" stroke-width="0.7" />
<line x1="324.69" y1="283.6" x2="324.69" y2="285.2" stroke="#1a1a1a" stroke-width="0.7" />
<line x1="338.06" y1="283.6" x2="338.06" y2="285.2" stroke="#1a1a1a" stroke-width="0.7" />
<line x1="351.43" y1="283.6" x2="351.43" y2="285.2" stroke="#1a1a1a" stroke-width="0.7" />
<text x="317.61" y="307.6" font-size="8.6" text-anchor="middle" font-weight="bold" fill="#333" color="#333" textLength="28.9" lengthAdjust="spacingAndGlyphs" >Time (min)</text>
<text x="251.8" y="264.1" font-size="7.2" text-anchor="start" font-weight="bold" fill="#333" color="#333" textLength="49.9" lengthAdjust="spacingAndGlyphs" transform="rotate(-90 251.8 264.1)" >Residual activity %</text>
<polyline points="277.9,241.2 291.27,211.94 304.64,213.64 318.01,213.64 331.38,220.42 344.75,221.7 358.12,215.76" fill="none" stroke="#cc3d62" stroke-width="0.9" stroke-linejoin="round" stroke-dasharray="1.7,1.5"/>
<rect x="276.2" y="239.5" width="3.4" height="3.4" fill="#fff" stroke="#cc3d62" stroke-width="0.85"/>
<rect x="289.57" y="210.24" width="3.4" height="3.4" fill="#fff" stroke="#cc3d62" stroke-width="0.85"/>
<rect x="302.94" y="211.94" width="3.4" height="3.4" fill="#fff" stroke="#cc3d62" stroke-width="0.85"/>
<rect x="316.31" y="211.94" width="3.4" height="3.4" fill="#fff" stroke="#cc3d62" stroke-width="0.85"/>
<rect x="329.68" y="218.72" width="3.4" height="3.4" fill="#fff" stroke="#cc3d62" stroke-width="0.85"/>
<rect x="343.05" y="220" width="3.4" height="3.4" fill="#fff" stroke="#cc3d62" stroke-width="0.85"/>
<rect x="356.42" y="214.06" width="3.4" height="3.4" fill="#fff" stroke="#cc3d62" stroke-width="0.85"/>
<polyline points="277.9,241.2 291.27,220 304.64,229.75 318.01,231.87 331.38,233.57 344.75,233.57 358.12,233.57" fill="none" stroke="#cc3d62" stroke-width="0.9" stroke-linejoin="round" stroke-dasharray="1.7,1.5"/>
<circle cx="277.9" cy="241.2" r="1.75" fill="#fff" stroke="#cc3d62" stroke-width="0.85"/>
<circle cx="291.27" cy="220" r="1.75" fill="#fff" stroke="#cc3d62" stroke-width="0.85"/>
<circle cx="304.64" cy="229.75" r="1.75" fill="#fff" stroke="#cc3d62" stroke-width="0.85"/>
<circle cx="318.01" cy="231.87" r="1.75" fill="#fff" stroke="#cc3d62" stroke-width="0.85"/>
<circle cx="331.38" cy="233.57" r="1.75" fill="#fff" stroke="#cc3d62" stroke-width="0.85"/>
<circle cx="344.75" cy="233.57" r="1.75" fill="#fff" stroke="#cc3d62" stroke-width="0.85"/>
<circle cx="358.12" cy="233.57" r="1.75" fill="#fff" stroke="#cc3d62" stroke-width="0.85"/>
<polyline points="277.9,241.2 291.27,265.79 304.64,266.64 318.01,270.88 331.38,270.88 344.75,274.27 358.12,274.7" fill="none" stroke="#3a5f88" stroke-width="0.9" stroke-linejoin="round" />
<circle cx="277.9" cy="241.2" r="1.75" fill="#173e6c" stroke="#3a5f88" stroke-width="0.85"/>
<circle cx="291.27" cy="265.79" r="1.75" fill="#173e6c" stroke="#3a5f88" stroke-width="0.85"/>
<circle cx="304.64" cy="266.64" r="1.75" fill="#173e6c" stroke="#3a5f88" stroke-width="0.85"/>
<circle cx="318.01" cy="270.88" r="1.75" fill="#173e6c" stroke="#3a5f88" stroke-width="0.85"/>
<circle cx="331.38" cy="270.88" r="1.75" fill="#173e6c" stroke="#3a5f88" stroke-width="0.85"/>
<circle cx="344.75" cy="274.27" r="1.75" fill="#173e6c" stroke="#3a5f88" stroke-width="0.85"/>
<circle cx="358.12" cy="274.7" r="1.75" fill="#173e6c" stroke="#3a5f88" stroke-width="0.85"/>
<polyline points="277.9,241.2 291.27,258.16 304.64,258.58 318.01,257.74 331.38,266.22 344.75,270.03 358.12,271.3" fill="none" stroke="#173e6c" stroke-width="0.9" stroke-linejoin="round" />
<rect x="276.2" y="239.5" width="3.4" height="3.4" fill="#173e6c" stroke="#173e6c" stroke-width="0.85"/>
<rect x="289.57" y="256.46" width="3.4" height="3.4" fill="#173e6c" stroke="#173e6c" stroke-width="0.85"/>
<rect x="302.94" y="256.88" width="3.4" height="3.4" fill="#173e6c" stroke="#173e6c" stroke-width="0.85"/>
<rect x="316.31" y="256.04" width="3.4" height="3.4" fill="#173e6c" stroke="#173e6c" stroke-width="0.85"/>
<rect x="329.68" y="264.52" width="3.4" height="3.4" fill="#173e6c" stroke="#173e6c" stroke-width="0.85"/>
<rect x="343.05" y="268.33" width="3.4" height="3.4" fill="#173e6c" stroke="#173e6c" stroke-width="0.85"/>
<rect x="356.42" y="269.6" width="3.4" height="3.4" fill="#173e6c" stroke="#173e6c" stroke-width="0.85"/>
<line x1="257.5" y1="320.2" x2="265" y2="320.2" stroke="#1d4d7e" stroke-width="1" />
<circle cx="261.2" cy="320.2" r="1.6" fill="#1d4d7e"/>
<text x="268.9" y="322.4" font-size="6.5" text-anchor="start" font-weight="normal" fill="#2a2a2a" color="#2a2a2a" textLength="12" lengthAdjust="spacingAndGlyphs" >PKR</text>
<line x1="257.5" y1="329.4" x2="265" y2="329.4" stroke="#3c6e9c" stroke-width="0.8" stroke-dasharray="1.3,1"/>
<circle cx="261.2" cy="329.4" r="1.6" fill="#fff" stroke="#2b5d8d" stroke-width="0.7"/>
<text x="268.9" y="331.6" font-size="6.5" text-anchor="start" font-weight="normal" fill="#2a2a2a" color="#2a2a2a" textLength="44.4" lengthAdjust="spacingAndGlyphs" >PKR + Mitapivat</text>
<line x1="321.4" y1="320.2" x2="329.5" y2="320.2" stroke="#cf0a2c" stroke-width="1" />
<rect x="323.8" y="318.59999999999997" width="3.2" height="3.2" fill="#cf0a2c"/>
<text x="333" y="322.4" font-size="6.5" text-anchor="start" font-weight="normal" fill="#2a2a2a" color="#2a2a2a" textLength="18" lengthAdjust="spacingAndGlyphs" >PKM2</text>
<line x1="321.4" y1="329.4" x2="329.5" y2="329.4" stroke="#cc3d62" stroke-width="0.8" stroke-dasharray="1.3,1"/>
<rect x="323.8" y="327.79999999999995" width="3.2" height="3.2" fill="#fff" stroke="#cc3d62" stroke-width="0.7"/>
<text x="333" y="331.6" font-size="6.5" text-anchor="start" font-weight="normal" fill="#2a2a2a" color="#2a2a2a" textLength="50.4" lengthAdjust="spacingAndGlyphs" >PKM2 + Mitapivat</text>
<text x="393.6" y="14.9" font-size="11.6" text-anchor="start" font-weight="bold" fill="#111" color="#111" >F</text>
<text x="458.8" y="19.8" font-size="6.3" text-anchor="middle" font-weight="normal" fill="#2a2a2a" color="#2a2a2a" textLength="54.7" lengthAdjust="spacingAndGlyphs" >β−Thal cells vehicle</text>
<text x="458.5" y="96.2" font-size="6.3" text-anchor="middle" font-weight="normal" fill="#2a2a2a" color="#2a2a2a" textLength="60" lengthAdjust="spacingAndGlyphs" >β−Thal cells Mitapivat</text>
<defs><clipPath id="c1"><rect x="404" y="24.4" width="108.6" height="61.5"/></clipPath><clipPath id="c2"><rect x="404" y="101.5" width="109" height="93.3"/></clipPath><filter id="bl" x="-30%" y="-30%" width="160%" height="160%"><feGaussianBlur stdDeviation="0.9"/></filter><filter id="bl2" x="-50%" y="-50%" width="200%" height="200%"><feGaussianBlur stdDeviation="2.5"/></filter><linearGradient id="g1" x1="0" x2="1" y1="0" y2="0"><stop offset="0" stop-color="#ddd2cf"/><stop offset="0.4" stop-color="#dccbcf"/><stop offset="1" stop-color="#ded7d1"/></linearGradient><linearGradient id="g2" x1="0" x2="0.5" y1="0" y2="1"><stop offset="0" stop-color="#d1d2c6"/><stop offset="0.5" stop-color="#d4d0c8"/><stop offset="1" stop-color="#d8c6cc"/></linearGradient></defs>
<g clip-path="url(#c1)">
<rect x="404" y="24.4" width="108.6" height="61.5" fill="url(#g1)"/>
<g filter="url(#bl2)">
<ellipse cx="429" cy="43" rx="13.5" ry="21" fill="#cc9fcb" opacity="1" />
<ellipse cx="478" cy="52" rx="13" ry="17" fill="#d6b8d6" opacity="0.8" />
<ellipse cx="478" cy="79" rx="15" ry="8" fill="#cfaad2" opacity="1" />
<ellipse cx="433" cy="75" rx="5" ry="10" fill="#dab0c8" opacity="1" />
<ellipse cx="487" cy="67" rx="10" ry="10" fill="#d8bcd6" opacity="0.7" />
</g><g filter="url(#bl)">
<ellipse cx="418.5" cy="64" rx="11" ry="12.5" fill="#adbcc2" opacity="1" />
<ellipse cx="422.5" cy="62" rx="8" ry="9.5" fill="#5046a0" opacity="1" />
<ellipse cx="456" cy="35" rx="19" ry="12" fill="#4a4c98" opacity="1" />
<ellipse cx="458" cy="55" rx="19" ry="14" fill="#5464ac" opacity="1" />
<ellipse cx="442" cy="38" rx="5" ry="9" fill="#6a70b6" opacity="1" />
<ellipse cx="462" cy="33" rx="4" ry="3.5" fill="#7484c0" opacity="1" />
<ellipse cx="449" cy="55.5" rx="10" ry="9" fill="#3e3478" opacity="1" />
<ellipse cx="471" cy="54.4" rx="11.5" ry="13" fill="#3c3278" opacity="1" />
<ellipse cx="444" cy="70" rx="9.5" ry="8" fill="#3a3480" opacity="1" />
<ellipse cx="453" cy="78.5" rx="8.5" ry="8.5" fill="#3a40a0" opacity="1" />
<ellipse cx="485.3" cy="66.7" rx="7.3" ry="7.8" fill="#40367e" opacity="1" />
</g>
<ellipse cx="463" cy="30" rx="1.3" ry="1.3" fill="#eef2f8" opacity="0.9" />
</g>
<g clip-path="url(#c2)">
<rect x="404" y="101.5" width="109" height="93.3" fill="url(#g2)"/>
<g filter="url(#bl2)">
<ellipse cx="470" cy="135" rx="19" ry="19" fill="#d4a8c8" opacity="0.8" />
<ellipse cx="492" cy="150" rx="18" ry="13" fill="#a878b4" opacity="1" />
<ellipse cx="500" cy="142" rx="11" ry="8" fill="#b48cc0" opacity="1" />
<ellipse cx="505" cy="173" rx="8" ry="14" fill="#dacccb" opacity="1" />
<ellipse cx="445" cy="150" rx="8" ry="10" fill="#d0b0c8" opacity="0.7" />
<ellipse cx="420" cy="172" rx="14" ry="10" fill="#d8c0c8" opacity="0.7" />
</g><g filter="url(#bl)">
<ellipse cx="471" cy="133.5" rx="11" ry="12.5" fill="#7a8abc" opacity="1" />
<ellipse cx="471" cy="137" rx="9" ry="7.6" fill="#3c3a90" opacity="1" />
<ellipse cx="454" cy="145" rx="9" ry="8" fill="#7c88b8" opacity="1" />
<ellipse cx="439.5" cy="166" rx="12.7" ry="14.3" fill="#6e5eac" opacity="1" />
<ellipse cx="440" cy="167" rx="8" ry="9" fill="#5a4a9c" opacity="1" />
<ellipse cx="425" cy="184.5" rx="13.5" ry="10" fill="#6a58a8" opacity="1" />
<ellipse cx="472" cy="172" rx="21" ry="16" fill="#9aaad0" opacity="0.85" transform="rotate(-25 472 172)"/>
<ellipse cx="455" cy="170" rx="2.5" ry="3.5" fill="#e6ecec" opacity="1" />
<ellipse cx="469" cy="167.5" rx="3" ry="1.4" fill="#eaeeee" opacity="1" />
<ellipse cx="490.5" cy="171" rx="1.6" ry="2.6" fill="#eaecea" opacity="1" />
<ellipse cx="437" cy="180.5" rx="3" ry="1.8" fill="#e6eaea" opacity="1" />
<ellipse cx="459.5" cy="160" rx="7.8" ry="7.8" fill="#3a2e80" opacity="1" />
<ellipse cx="471" cy="156" rx="7.4" ry="7.6" fill="#3a3a90" opacity="1" />
<ellipse cx="483.6" cy="164.5" rx="6.8" ry="6.6" fill="#282860" opacity="1" />
<ellipse cx="463.2" cy="175.5" rx="8.3" ry="8.2" fill="#30307a" opacity="1" />
<ellipse cx="479.4" cy="178" rx="9" ry="9" fill="#2e2e78" opacity="1" />
<ellipse cx="494" cy="183.5" rx="9.5" ry="9.5" fill="#303890" opacity="1" />
<ellipse cx="448.5" cy="185.5" rx="8.5" ry="8.3" fill="#302c78" opacity="1" />
<ellipse cx="466" cy="194" rx="9" ry="3" fill="#c8a8d0" opacity="1" />
</g>
<ellipse cx="477.4" cy="120.4" rx="1.4" ry="1.4" fill="#f0f0f4" opacity="0.8" />
</g>
<line x1="421.3" y1="216.5" x2="421.3" y2="270.8" stroke="#1a1a1a" stroke-width="1" />
<line x1="420.8" y1="270.3" x2="503.2" y2="270.3" stroke="#1a1a1a" stroke-width="1" />
<line x1="417.3" y1="269.9" x2="421.3" y2="269.9" stroke="#1a1a1a" stroke-width="0.8" />
<text x="413.7" y="272.2" font-size="6.6" text-anchor="end" font-weight="normal" fill="#2a2a2a" color="#2a2a2a" >1</text>
<line x1="417.3" y1="238.4" x2="421.3" y2="238.4" stroke="#1a1a1a" stroke-width="0.8" />
<text x="413.7" y="240.7" font-size="6.6" text-anchor="end" font-weight="normal" fill="#2a2a2a" color="#2a2a2a" >10</text>
<line x1="430" y1="270.3" x2="430" y2="273.1" stroke="#1a1a1a" stroke-width="0.8" />
<text x="430" y="283" font-size="6.8" text-anchor="middle" font-weight="normal" fill="#2a2a2a" color="#2a2a2a" >7</text>
<line x1="466.8" y1="270.3" x2="466.8" y2="273.1" stroke="#1a1a1a" stroke-width="0.8" />
<text x="466.8" y="283" font-size="6.8" text-anchor="middle" font-weight="normal" fill="#2a2a2a" color="#2a2a2a" >11</text>
<line x1="494.4" y1="270.3" x2="494.4" y2="273.1" stroke="#1a1a1a" stroke-width="0.8" />
<text x="494.4" y="283" font-size="6.8" text-anchor="middle" font-weight="normal" fill="#2a2a2a" color="#2a2a2a" >14</text>
<text x="462.4" y="295.3" font-size="8.6" text-anchor="middle" font-weight="bold" fill="#333" color="#333" textLength="32.3" lengthAdjust="spacingAndGlyphs" >Time (days)</text>
<text x="400.6" y="258.5" font-size="7" text-anchor="start" font-weight="bold" fill="#333" color="#333" textLength="29.7" lengthAdjust="spacingAndGlyphs" transform="rotate(-90 400.6 258.5)" >Cell growth</text>
<polyline points="430,269.6 466.8,237.8 494.4,230" fill="none" stroke="#245f8a" stroke-width="0.9" stroke-linejoin="round" />
<polyline points="430,269.6 466.8,229.3 494.4,226" fill="none" stroke="#d0486a" stroke-width="0.9" stroke-linejoin="round" />
<line x1="466.8" y1="234.8" x2="466.8" y2="240.8" stroke="#245f8a" stroke-width="0.7" />
<line x1="494.4" y1="226.8" x2="494.4" y2="233.2" stroke="#245f8a" stroke-width="0.7" />
<line x1="466.8" y1="226.8" x2="466.8" y2="231.8" stroke="#d0486a" stroke-width="0.7" />
<line x1="494.4" y1="223.5" x2="494.4" y2="228.5" stroke="#d0486a" stroke-width="0.7" />
<circle cx="430" cy="269.6" r="1.6" fill="#245f8a"/>
<circle cx="466.8" cy="237.8" r="1.6" fill="#245f8a"/>
<circle cx="494.4" cy="230" r="1.6" fill="#245f8a"/>
<rect x="428.3" y="267.9" width="3.4" height="3.4" fill="#fff" fill-opacity="0.6" stroke="#d0486a" stroke-width="0.8"/>
<rect x="465.1" y="227.6" width="3.4" height="3.4" fill="#fff" fill-opacity="0.6" stroke="#d0486a" stroke-width="0.8"/>
<rect x="492.7" y="224.3" width="3.4" height="3.4" fill="#fff" fill-opacity="0.6" stroke="#d0486a" stroke-width="0.8"/>
<text x="466.8" y="224.4" font-size="6" text-anchor="middle" font-weight="normal" fill="#2a2a2a" color="#2a2a2a" >*</text>
<line x1="431.9" y1="208.9" x2="439.7" y2="208.9" stroke="#245f8a" stroke-width="1" />
<circle cx="435.8" cy="208.9" r="1.9" fill="#1d4d7e"/>
<text x="443.9" y="211" font-size="6.6" text-anchor="start" font-weight="normal" fill="#2a2a2a" color="#2a2a2a" textLength="9.8" lengthAdjust="spacingAndGlyphs" >Ctrl</text>
<line x1="456.6" y1="208.9" x2="465.8" y2="208.9" stroke="#d0486a" stroke-width="0.9" />
<rect x="459.5" y="207.1" width="3.6" height="3.6" fill="#fff" stroke="#d0486a" stroke-width="0.9"/>
<text x="468.8" y="211" font-size="6.6" text-anchor="start" font-weight="normal" fill="#2a2a2a" color="#2a2a2a" textLength="25.9" lengthAdjust="spacingAndGlyphs" >Mitapivat</text>
<rect x="0" y="0" width="520" height="1" fill="#4a4a4a"/><rect x="0" y="0" width="1" height="340" fill="#4a4a4a"/><rect x="519" y="0" width="1" height="340" fill="#4a4a4a"/><rect x="0" y="338.6" width="520" height="1.4" fill="#4a4a4a"/>
</svg>
</body></html>
